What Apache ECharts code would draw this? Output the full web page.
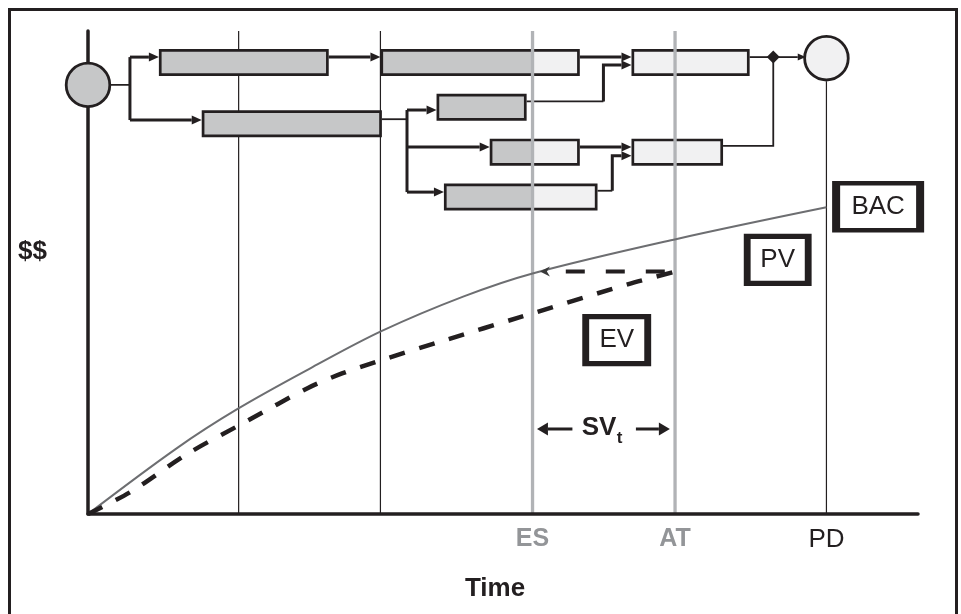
<!DOCTYPE html>
<html><head><meta charset="utf-8">
<script src="https://cdn.jsdelivr.net/npm/echarts@6/dist/echarts.min.js"></script>
<style>html,body{margin:0;padding:0;background:#fff}#c{width:961px;height:614px}</style>
</head><body><div id="c"></div>
<script>
// ================= DATA =================
// Planned value (PV) and earned value (EV) curves: time (periods) vs $ (0-100)
const pvTime  = [0, 0.6, 1.01, 1.52, 1.99, 2.54, 3.01, 3.98, 5.0];
const pvValue = [0, 13.6, 21.7, 30.4, 37.9, 45.0, 49.8, 56.9, 63.5];
const evTime  = [0, 0.29, 0.67, 1.08, 1.49, 1.72, 1.95, 2.44, 2.92, 3.66, 3.98];
const evValue = [0, 4.6, 12.4, 19.3, 26.1, 29.1, 31.5, 36.2, 40.7, 47.6, 50.2];

const periodTimes = [1.02, 1.98];          // thin period lines
const esTime = 3.01, atTime = 3.975, pdTime = 5.0;
const markerTimes  = [esTime, atTime, pdTime];
const markerLabels = ['ES', 'AT', 'PD'];
const timeMax = 5.62, valueMax = 100;
const pdLineTop = 89.6;                    // PD line runs up to the finish node

// Network (activities) : time start/end, lane centre
const actStart = [0.48, 0.77, 1.98, 2.36, 2.72, 2.41, 3.68, 3.68];
const actEnd   = [1.63, 1.99, 3.33, 2.97, 3.33, 3.45, 4.48, 4.30];
const actLane  = [0.5, 2.77, 0.5, 2.16, 3.82, 5.48, 0.5, 3.82];
const nodeTime = [0, 5.0];
const nodeLane = [1.33, 0.34];
const mergeTime = 4.64, mergeLane = 0.30;
const connPoints = [
  [[0, 1.33], [0.284, 1.33]],
  [[0.284, 0.30], [0.284, 2.63]],
  [[0.284, 0.30], [0.48, 0.30]],
  [[0.284, 2.63], [0.77, 2.63]],
  [[1.63, 0.30], [1.98, 0.30]],
  [[1.99, 2.60], [2.16, 2.60]],
  [[2.16, 2.26], [2.16, 5.30]],
  [[2.16, 2.26], [2.36, 2.26]],
  [[2.16, 3.63], [2.72, 3.63]],
  [[2.16, 5.30], [2.41, 5.30]],
  [[3.33, 0.30], [3.68, 0.30]],
  [[2.97, 1.94], [3.49, 1.94]],
  [[3.49, 1.94], [3.49, 0.59], [3.68, 0.59]],
  [[3.33, 3.63], [3.68, 3.63]],
  [[3.45, 5.25], [3.55, 5.25]],
  [[3.55, 5.25], [3.55, 3.95], [3.68, 3.95]],
  [[4.48, 0.30], [4.64, 0.30]],
  [[4.30, 3.59], [4.64, 3.59], [4.64, 0.30]],
  [[4.64, 0.30], [4.86, 0.30]]
];
const connThick = [0,1,1,1,1,0,1,1,1,1,1,0,1,1,0,1,0,0,0];
const connArrow = [0,0,1,1,1,0,0,1,1,1,1,0,1,1,0,1,0,0,1];

// Annotations
const boxLabels = ['EV', 'PV', 'BAC'];
const boxTime   = [3.58, 4.67, 5.35];
const boxValue  = [36.0, 52.6, 63.6];
const arrowFrom = [[3.98, 50.2], [3.28, 17.6], [3.71, 17.6]];
const arrowTo   = [[3.06, 50.2], [3.04, 17.6], [3.94, 17.6]];
const arrowKind = ['dashed', 'solid', 'solid'];
const textLabels = ['SV', 't'];
const textTime   = [3.46, 3.60];
const textValue  = [17.9, 15.6];

// ================= STYLE =================
const DARK = '#231f20', GRAYFILL = '#c6c7c8', LIGHTFILL = '#f1f1f2';
const MARKGRAY = '#b1b3b6', PVGRAY = '#6d6e71', LABELGRAY = '#939598';
const FONT = '"Liberation Sans", Arial, sans-serif';
const boxSizes = {EV: [62, 47], PV: [61, 47], BAC: [84, 47]};
const textStyles = {SV: {size: 26}, t: {size: 17}};

function arrowHead(tip, prev, len, half) {
  const dx = tip[0] - prev[0], dy = tip[1] - prev[1];
  const L = Math.hypot(dx, dy) || 1, ux = dx / L, uy = dy / L;
  const base = [tip[0] - ux * len, tip[1] - uy * len];
  return {base, ux, uy, pts: [tip, [base[0] - uy * half, base[1] + ux * half], [base[0] + uy * half, base[1] - ux * half]]};
}

const chart = echarts.init(document.getElementById('c'), null, {renderer: 'canvas'});

const option = {
  animation: false,
  backgroundColor: '#fff',
  grid: [
    {left: 88, right: 43, top: 31, bottom: 100, containLabel: false},
    {left: 88, right: 43, top: 49, height: 162, containLabel: false}
  ],
  xAxis: [
    {type: 'value', gridIndex: 0, min: 0, max: timeMax, z: 10,
     axisLine: {show: true, onZero: false, lineStyle: {color: DARK, width: 3.5}},
     axisTick: {show: false}, splitLine: {show: false},
     axisLabel: {
       show: true, margin: 13, customValues: markerTimes,
       formatter: function (v) {
         const i = markerTimes.findIndex(t => Math.abs(t - v) < 1e-6);
         if (i < 0) return '';
         return (i < 2 ? '{g|' : '{k|') + markerLabels[i] + '}';
       },
       rich: {
         g: {color: LABELGRAY, fontWeight: 'bold', fontSize: 25, fontFamily: FONT},
         k: {color: DARK, fontSize: 26, fontFamily: FONT}
       }
     }},
    {type: 'value', gridIndex: 1, min: 0, max: timeMax, show: false}
  ],
  yAxis: [
    {type: 'value', gridIndex: 0, min: 0, max: valueMax, z: 1,
     axisLine: {show: true, lineStyle: {color: DARK, width: 3.5}},
     axisTick: {show: false}, axisLabel: {show: false}, splitLine: {show: false}},
    {type: 'value', gridIndex: 1, min: 0, max: 6, inverse: true, show: false}
  ],
  graphic: [
    {type: 'rect', shape: {x: 9.5, y: 9.5, width: 947, height: 620}, style: {fill: null, stroke: DARK, lineWidth: 3}, z: 100},
    {type: 'text', x: 32.5, y: 252, style: {text: '$$', font: 'bold 26px ' + FONT, fill: DARK, align: 'center', verticalAlign: 'middle'}},
    {type: 'text', x: 495, y: 589, style: {text: 'Time', font: 'bold 26px ' + FONT, fill: DARK, align: 'center', verticalAlign: 'middle'}}
  ],
  series: [
    // thin period lines + PD line
    {type: 'custom', xAxisIndex: 0, yAxisIndex: 0, z: 1, silent: true,
     data: periodTimes.map(t => [t, valueMax]).concat([[pdTime, pdLineTop]]),
     renderItem: function (p, api) {
       const a = api.coord([api.value(0), 0]), b = api.coord([api.value(0), api.value(1)]);
       return {type: 'line', shape: {x1: a[0], y1: a[1], x2: b[0], y2: b[1]}, style: {stroke: DARK, lineWidth: 1.2}};
     }},
    // network connectors
    {type: 'custom', xAxisIndex: 1, yAxisIndex: 1, z: 2, silent: true,
     data: connPoints.map((c, i) => [c[0][0], c[0][1], i]),
     renderItem: function (p, api) {
       const i = api.value(2);
       const pts = connPoints[i].map(q => api.coord(q));
       const thick = connThick[i] === 1;
       const children = [];
       const linePts = pts.slice();
       if (connArrow[i]) {
         const n = pts.length;
         const h = arrowHead(pts[n - 1], pts[n - 2], thick ? 10 : 8, thick ? 4.5 : 3.5);
         linePts[n - 1] = h.base;
         children.push({type: 'polygon', shape: {points: h.pts}, style: {fill: DARK}});
       }
       children.unshift({type: 'polyline', shape: {points: linePts}, style: {stroke: DARK, lineWidth: thick ? 3 : 1.8, fill: null}});
       return {type: 'group', children};
     }},
    // activities
    {type: 'custom', xAxisIndex: 1, yAxisIndex: 1, z: 3, silent: true,
     data: actStart.map((s, i) => [s, actLane[i], actEnd[i]]),
     renderItem: function (p, api) {
       const s = api.value(0), lane = api.value(1), e = api.value(2);
       const bw = 2.7, ins = bw / 2;
       const tl = api.coord([s, lane - 0.5]), br = api.coord([e, lane + 0.5]);
       const split = Math.min(Math.max(esTime, s), e);
       const sx = api.coord([split, lane])[0];
       const x0 = tl[0] + ins, y0 = tl[1] + ins, x1 = br[0] - ins, y1 = br[1] - ins;
       const ch = [];
       if (sx > x0) ch.push({type: 'rect', shape: {x: x0, y: y0, width: Math.min(sx, x1) - x0, height: y1 - y0}, style: {fill: GRAYFILL}});
       if (sx < x1) ch.push({type: 'rect', shape: {x: Math.max(sx, x0), y: y0, width: x1 - Math.max(sx, x0), height: y1 - y0}, style: {fill: LIGHTFILL}});
       ch.push({type: 'rect', shape: {x: x0, y: y0, width: x1 - x0, height: y1 - y0}, style: {fill: null, stroke: DARK, lineWidth: bw}});
       return {type: 'group', children: ch};
     }},
    // nodes + merge diamond
    {type: 'custom', xAxisIndex: 1, yAxisIndex: 1, z: 4, silent: true,
     data: nodeTime.map((t, i) => [t, nodeLane[i], i]).concat([[mergeTime, mergeLane, -1]]),
     renderItem: function (p, api) {
       const c = api.coord([api.value(0), api.value(1)]);
       const k = api.value(2);
       if (k < 0) {
         const r = 6.5;
         return {type: 'polygon', shape: {points: [[c[0], c[1] - r], [c[0] + r, c[1]], [c[0], c[1] + r], [c[0] - r, c[1]]]}, style: {fill: DARK}};
       }
       return {type: 'circle', shape: {cx: c[0], cy: c[1], r: 21.8}, style: {fill: k === 0 ? GRAYFILL : LIGHTFILL, stroke: DARK, lineWidth: 2.8}};
     }},
    // ES / AT lines
    {type: 'custom', xAxisIndex: 0, yAxisIndex: 0, z: 5, silent: true,
     data: [[esTime, valueMax], [atTime, valueMax]],
     renderItem: function (p, api) {
       const a = api.coord([api.value(0), 0]), b = api.coord([api.value(0), api.value(1)]);
       return {type: 'line', shape: {x1: a[0], y1: a[1], x2: b[0], y2: b[1]}, style: {stroke: MARKGRAY, lineWidth: 3.3}};
     }},
    // PV
    {type: 'line', name: 'PV', xAxisIndex: 0, yAxisIndex: 0, z: 6, smooth: 0.35, symbol: 'none', showSymbol: false,
     data: pvTime.map((t, i) => [t, pvValue[i]]),
     lineStyle: {color: PVGRAY, width: 2}},
    // EV
    {type: 'line', name: 'EV', xAxisIndex: 0, yAxisIndex: 0, z: 6, smooth: 0.3, symbol: 'none', showSymbol: false,
     data: evTime.map((t, i) => [t, evValue[i]]),
     lineStyle: {color: DARK, width: 4.5, type: [16, 15], cap: 'butt'}},
    // arrows
    {type: 'custom', xAxisIndex: 0, yAxisIndex: 0, z: 7, silent: true,
     data: arrowFrom.map((f, i) => [f[0], f[1], i]),
     renderItem: function (p, api) {
       const i = api.value(2);
       const a = api.coord(arrowFrom[i]), b = api.coord(arrowTo[i]);
       if (arrowKind[i] === 'dashed') {
         const h = arrowHead(b, a, 10, 5);
         const notch = [b[0] - h.ux * 7, b[1] - h.uy * 7];
         return {type: 'group', children: [
           {type: 'line', shape: {x1: a[0], y1: a[1], x2: h.base[0], y2: h.base[1]},
            style: {stroke: DARK, lineWidth: 4, lineDash: [19, 21], lineDashOffset: 29, lineCap: 'butt'}},
           {type: 'polygon', shape: {points: [h.pts[0], h.pts[1], notch, h.pts[2]]}, style: {fill: '#3a3a3a'}}
         ]};
       }
       const h = arrowHead(b, a, 11, 6.5);
       return {type: 'group', children: [
         {type: 'line', shape: {x1: a[0], y1: a[1], x2: h.base[0], y2: h.base[1]}, style: {stroke: DARK, lineWidth: 3}},
         {type: 'polygon', shape: {points: h.pts}, style: {fill: DARK}}
       ]};
     }},
    // SV_t text
    {type: 'custom', xAxisIndex: 0, yAxisIndex: 0, z: 7, silent: true,
     data: textLabels.map((t, i) => [textTime[i], textValue[i], i]),
     renderItem: function (p, api) {
       const i = api.value(2);
       const c = api.coord([api.value(0), api.value(1)]);
       const st = textStyles[textLabels[i]];
       return {type: 'text', x: c[0], y: c[1], style: {text: textLabels[i], font: 'bold ' + st.size + 'px ' + FONT, fill: DARK, align: 'center', verticalAlign: 'middle'}};
     }},
    // labelled boxes
    {type: 'scatter', xAxisIndex: 0, yAxisIndex: 0, z: 8, silent: true, symbol: 'rect',
     data: boxLabels.map((n, i) => ({name: n, value: [boxTime[i], boxValue[i]], symbolSize: boxSizes[n]})),
     itemStyle: {color: '#fff', borderColor: DARK, borderWidth: 6, opacity: 1},
     label: {show: true, position: 'inside', formatter: '{b}', color: DARK, fontSize: 26, fontFamily: FONT}}
  ]
};
chart.setOption(option);
</script>
</body></html>
